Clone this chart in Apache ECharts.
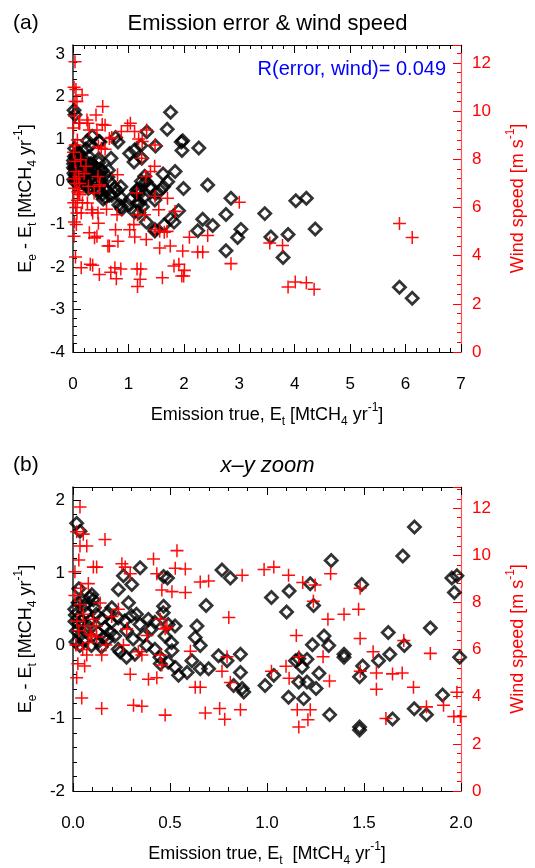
<!DOCTYPE html>
<html><head><meta charset="utf-8">
<script src="https://cdn.jsdelivr.net/npm/echarts@6/dist/echarts.min.js"></script>
<style>html,body{margin:0;padding:0;background:#fff}#c{width:535px;height:868px}</style>
</head><body><div id="c"></div>
<script>
// Emission error (Ee - Et) vs true emission Et : black diamonds
const errPoints = [
[0.019,1.68],[0.036,1.57],
[0.097,0.70],[0.105,0.63],[0.346,1.07],[0.26,0.96],[0.303,0.84],[0.234,0.77],[0.286,0.59],[0.467,0.95],[0.487,0.93],[0.467,0.54],[0.686,0.55],[0.768,1.04],[0.811,0.93],[0.639,0.27],
[0.086,0.66],[0.026,0.59],[0.009,0.50],[0.069,0.45],[0.12,0.43],[0.146,0.36],[0.181,0.45],[0.198,0.32],[0.164,0.25],[0.233,0.38],[0.267,0.34],[0.301,0.41],[0.327,0.43],[0.345,0.29],[0.388,0.36],[0.422,0.32],[0.465,0.45],[0.491,0.29],[0.405,0.23],[0.362,0.13],[0.31,0.09],[0.276,0.20],[0.215,0.13],[0.181,0.09],[0.129,0.18],[0.078,0.27],[0.043,0.34],[0.017,0.20],[0.052,0.07],[0.095,0.00],[0.146,-0.02],[0.233,-0.05],[0.276,-0.16],[0.319,-0.12],[0.379,0.00],[0.422,-0.05],[0.448,-0.16],[0.491,-0.23],[0.508,0.04],[0.474,0.13],[0.526,0.27],
[0.630,0.11],[0.656,0.00],[0.51,-0.07],[0.243,-0.09],[0.45,-0.25],[0.527,-0.30],[0.544,-0.41],[0.588,-0.37],[0.613,-0.21],[0.656,-0.32],[0.699,-0.32],[0.75,-0.14],[0.794,-0.21],[0.863,-0.12],[0.863,-0.37],[0.828,-0.55],[0.872,-0.59],[0.88,-0.64],[0.157,0.11],[0.191,0.18],
[0.012,0.42],[0.03,0.30],[0.015,0.05],[0.04,0.15],[0.06,0.55],[0.03,0.78],[0.05,0.62],[0.01,0.33],[0.035,0.0],[0.065,0.20],[0.11,0.52],[0.13,0.05],[0.2,0.52],[0.09,0.35],
[1.023,0.66],[1.114,0.75],[1.101,0.46],[1.223,0.85],[1.240,0.55],[1.331,1.17],[1.488,0.84],[1.760,1.63],[1.700,1.23],[1.953,0.93],[1.979,0.96],[1.966,0.73],[1.842,0.24],[1.625,0.18],[1.633,-0.12],[1.708,0.00],[1.575,-0.21],[1.493,-0.28],[1.477,-0.43],[1.397,-0.12],[1.397,-0.16],[1.294,0.13],[1.318,0.00],[1.234,0.01],[1.268,-0.38],[1.253,-0.59],[1.206,-0.50],[1.164,-0.50],[1.189,-0.73],[1.111,-0.71],[0.990,-0.55],[1.035,-0.41],[1.147,-0.21],[1.164,-0.18],[1.206,-0.19],[1.181,-0.30],[1.323,-0.95],[1.477,-1.12],[1.477,-1.16],[1.647,-1.01],[1.759,-0.87],[1.822,-0.95],[1.905,-0.68],[1.993,-0.16],
[2.27,0.79],[2.43,-0.08],[2.85,-0.39],[2.76,-0.77],[2.34,-0.88],[2.52,-1.03],[3.03,-1.12],[2.97,-1.31],[2.76,-1.62],[2.25,-1.15],[3.46,-0.75],[3.57,-1.30],[3.88,-1.24],[3.79,-1.78],[4.02,-0.45],[4.21,-0.39],[4.37,-1.11],[5.89,-2.48],[6.12,-2.74]
];
// Wind speed vs true emission Et : red plus signs
const windPoints = [
[0.036,12.05],[0.019,11.0],[0.053,10.9],[0.071,10.4],[0.036,10.4],[0.165,10.67],[0.105,9.5],[0.122,9.5],[0.252,9.64],[0.269,9.5],[0.295,9.22],[0.415,9.84],[0.432,9.22],[0.536,10.2],[0.527,9.45],[0.579,9.42],[0.510,8.46],[0.579,8.42],[0.458,8.53],[0.656,8.87],[0.699,8.91],[0.872,9.16],[0.803,7.36],[0.079,8.80],[0.234,7.71],[0.036,7.91],[0.053,7.50],[0.105,7.29],[0.140,7.98],[0.097,6.60],[0.450,7.29],[0.484,6.95],[0.277,6.88],[0.381,6.60],
[0.071,5.77],[0.148,5.77],[0.019,4.81],[0.295,4.95],[0.389,4.74],[0.432,4.81],[0.045,3.95],[0.148,3.50],[0.312,3.64],[0.355,3.60],[0.475,3.22],[0.630,4.40],[0.656,4.40],[0.682,3.31],[0.756,3.50],[0.863,3.45],[0.782,3.04],[0.768,5.08],[0.811,4.60],[0.605,5.93],[0.794,5.70],[0.458,5.35],[0.475,6.88],[0.088,6.66],[0.122,6.53],[0.26,6.19],[0.337,5.91],[0.355,5.77],[0.450,5.77],
[0.985,9.40],[1.035,9.50],[1.111,9.16],[1.184,8.85],[1.248,8.74],[1.328,9.22],[1.239,8.05],[1.397,7.50],[1.472,7.71],[1.480,8.60],[1.314,7.29],[1.151,6.60],[1.098,5.29],[1.023,5.08],[1.164,5.70],[1.289,5.70],[1.114,4.78],[1.322,4.67],[1.156,3.45],[1.223,3.45],[1.164,2.72],[1.211,3.02],[1.547,5.91],[1.481,5.08],[1.564,5.01],[1.647,4.97],[1.697,5.01],[1.705,6.39],[1.755,4.40],[1.564,4.32],[1.613,3.08],[1.822,3.57],[1.842,5.84],[1.910,3.64],[1.979,4.19],[1.963,3.16],[1.997,3.16],[1.480,6.47],
[0.01,8.3],[0.02,7.2],[0.03,6.8],[0.015,6.2],[0.05,6.0],[0.06,7.0],[0.025,5.4],[0.04,8.6],[0.08,6.3],[0.01,9.3],[0.03,9.8],[0.12,7.0],[0.17,6.2],[0.2,7.4],[0.06,5.3],
[2.25,4.15],[2.34,4.15],[2.43,4.84],[2.85,3.67],[3.0,6.22],[2.10,4.77],[2.01,3.39],[3.55,4.53],[3.78,4.42],[3.88,2.70],[4.01,2.91],[4.21,2.88],[4.35,2.61],[5.89,5.34],[6.12,4.76]
];
const rText = 'R(error, wind)= 0.049';
const titleA = 'Emission error & wind speed';
const titleB = 'x\u2013y zoom';

const FONT = 'Liberation Sans, Arial, Helvetica, sans-serif';
const PLUS = 'path://M5.3,0 h1.4 v12 h-1.4 z M0,5.3 h12 v1.4 h-12 z';
const DIAMOND = 'path://M6,0 L12,6 L6,12 L0,6 Z';
const RED = '#ff0000';

const nameRich = {
  n: {fontSize: 18, fontFamily: FONT, lineHeight: 26, verticalAlign: 'middle'},
  s: {fontSize: 12, fontFamily: FONT, lineHeight: 26, verticalAlign: 'bottom'},
  p: {fontSize: 12, fontFamily: FONT, lineHeight: 26, verticalAlign: 'top'}
};
function richFor(color) {
  const r = {};
  for (const k in nameRich) r[k] = Object.assign({}, nameRich[k], {color: color});
  return r;
}
const errName = '{n|E}{s|e}{n| - E}{s|t}{n| [MtCH}{s|4}{n| yr}{p|-1}{n|]}';
const windName = '{n|Wind speed [m s}{p|-1}{n|]}';
const xName = '{n|Emission true, E}{s|t}{n| [MtCH}{s|4}{n| yr}{p|-1}{n|]}';
const xNameB = '{n|Emission true, E}{s|t}{n|  [MtCH}{s|4}{n| yr}{p|-1}{n|]}';

function xAxisPair(grid, max, interval, fmt, name) {
  const common = {
    type: 'value', gridIndex: grid, min: 0, max: max, interval: interval,
    splitLine: {show: false},
    axisLine: {show: true, onZero: false, lineStyle: {color: '#000', width: 1}},
    axisTick: {show: true, inside: true, length: 8, lineStyle: {color: '#000'}},
    minorTick: {show: true, splitNumber: 5, length: 4, lineStyle: {color: '#000'}}
  };
  return [
    Object.assign({}, common, {position: 'bottom',
      axisLabel: {margin: 24, fontSize: 17, color: '#000', fontFamily: FONT, formatter: fmt},
      name: name, nameLocation: 'middle', nameGap: 50,
      nameTextStyle: {rich: richFor('#000')}}),
    Object.assign({}, common, {position: 'top', axisLabel: {show: false}})
  ];
}
function yAxisPair(grid, min, max, minorN, rmax) {
  return [
    {type: 'value', gridIndex: grid, position: 'left', min: min, max: max, interval: 1,
     splitLine: {show: false},
     axisLine: {show: true, onZero: false, lineStyle: {color: '#222', width: 1.5}},
     axisTick: {show: true, inside: true, length: 8, lineStyle: {color: '#000'}},
     minorTick: {show: true, splitNumber: minorN, length: 4, lineStyle: {color: '#000'}},
     axisLabel: {margin: 8, fontSize: 17, color: '#000', fontFamily: FONT,
       formatter: v => (Math.abs(v - Math.round(v)) < 1e-6 ? String(Math.round(v)) : '')},
     name: errName, nameLocation: 'middle', nameRotate: 90, nameGap: 33,
     nameTextStyle: {rich: richFor('#000')}},
    {type: 'value', gridIndex: grid, position: 'right', min: 0, max: rmax, interval: 2,
     splitLine: {show: false},
     axisLine: {show: true, onZero: false, lineStyle: {color: '#ff5050', width: 1.2}},
     axisTick: {show: true, inside: true, length: 8, lineStyle: {color: RED}},
     minorTick: {show: true, splitNumber: 5, length: 4, lineStyle: {color: RED}},
     axisLabel: {margin: 11, fontSize: 17, color: RED, fontFamily: FONT,
       formatter: v => (Math.abs(v % 2) < 1e-6 ? String(v) : '')},
     name: windName, nameLocation: 'middle', nameRotate: 90, nameGap: 44,
     nameTextStyle: {rich: richFor(RED)}}
  ];
}

const xa = xAxisPair(0, 7, 1, v => String(v), xName);
const xb = xAxisPair(1, 2, 0.5, v => v.toFixed(1), xNameB);
const ya = yAxisPair(0, -4, 3.21, 5, 12.75);
const yb = yAxisPair(1, -2, 2.18, 5, 12.9);

function diamonds(xi, yi) {
  return {type: 'scatter', xAxisIndex: xi, yAxisIndex: yi, data: errPoints, symbol: DIAMOND,
    symbolSize: 12, silent: true, clip: true,
    itemStyle: {color: 'rgba(255,255,255,0)', borderColor: '#000', borderWidth: 2.8}};
}
function pluses(xi, yi) {
  return {type: 'scatter', xAxisIndex: xi, yAxisIndex: yi, data: windPoints, symbol: PLUS,
    symbolSize: 13, silent: true, clip: true,
    itemStyle: {color: RED, opacity: 0.95}};
}

const chart = echarts.init(document.getElementById('c'), null, {renderer: 'canvas'});
chart.setOption({
  animation: false,
  backgroundColor: '#fff',
  title: [
    {text: '(a)', left: 8, top: 8, textStyle: {fontSize: 21, fontWeight: 'normal', fontFamily: FONT, color: '#000'}},
    {text: titleA, left: 'center', top: 8, textStyle: {fontSize: 22, fontWeight: 'normal', fontFamily: FONT, color: '#000'}},
    {text: rText, right: 84, top: 54, textStyle: {fontSize: 20, fontWeight: 'normal', fontFamily: FONT, color: '#0000ff'}},
    {text: '(b)', left: 8, top: 450, textStyle: {fontSize: 21, fontWeight: 'normal', fontFamily: FONT, color: '#000'}},
    {text: titleB, left: 'center', top: 450, textStyle: {fontSize: 22, fontWeight: 'normal', fontStyle: 'italic', fontFamily: FONT, color: '#000'}}
  ],
  grid: [
    {left: 73, top: 45, width: 388, height: 307, containLabel: false},
    {left: 73, top: 487, width: 388, height: 306, containLabel: false}
  ],
  xAxis: [xa[0], xa[1], xb[0], xb[1]],
  yAxis: [ya[0], ya[1], yb[0], yb[1]],
  series: [diamonds(0, 0), pluses(0, 1), diamonds(2, 2), pluses(2, 3)]
});
</script></body></html>
